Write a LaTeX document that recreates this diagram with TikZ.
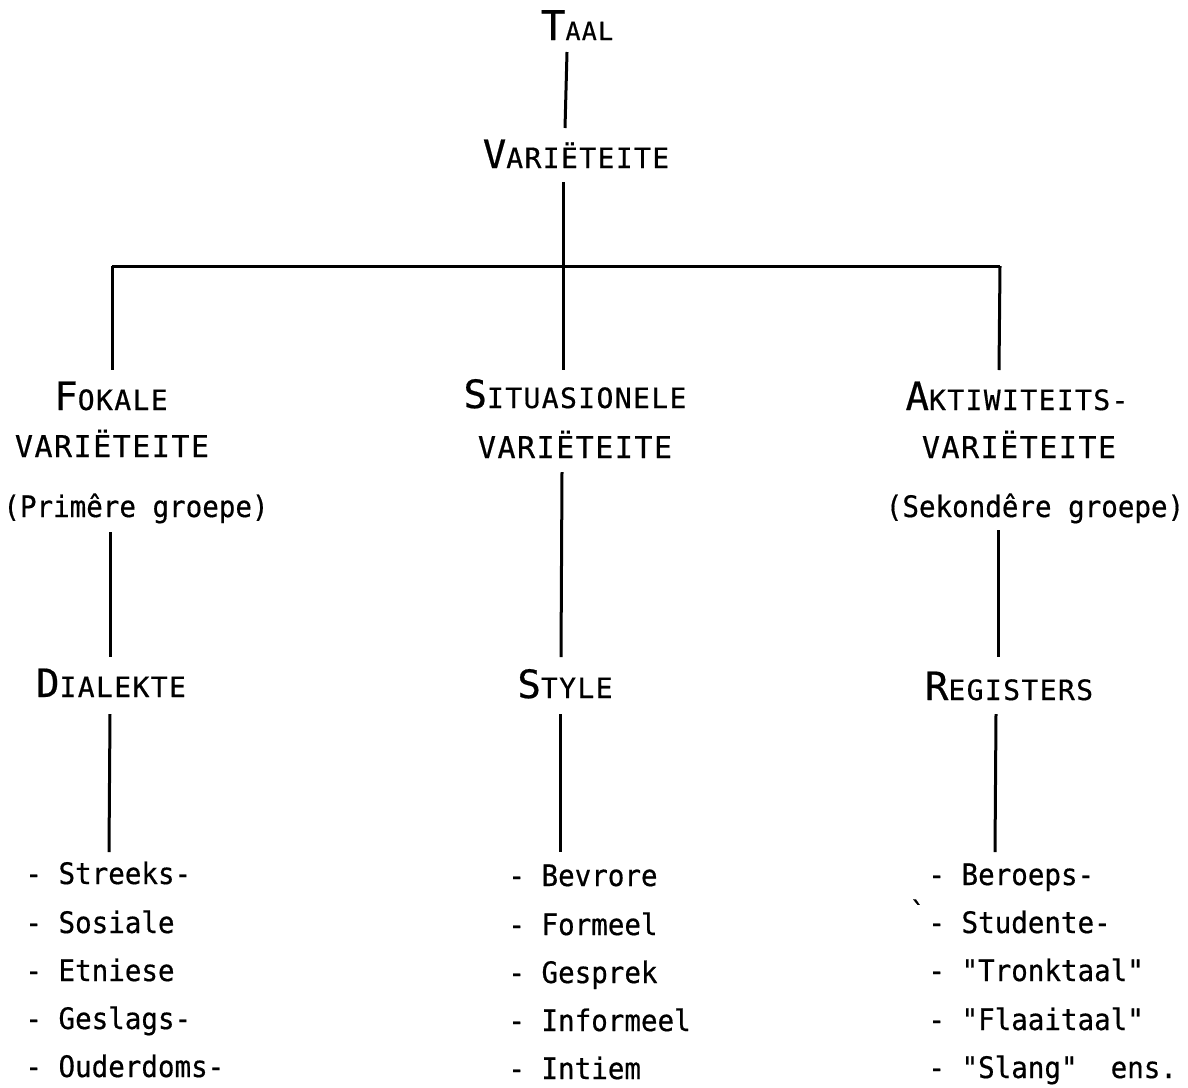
\documentclass[tikz,border=0pt]{standalone}
\usepackage{fontspec}
\newfontfamily\tw[Ligatures=TeXOff,FakeStretch=0.93,FakeBold=0.5]{DejaVu Sans Mono}
\newfontfamily\hd[Ligatures=TeXOff,LetterSpace=5,FakeBold=0.5]{DejaVu Sans Mono}
\newcommand\sz[1]{\fontsize{#1}{#1}\selectfont}
\newcommand\SCap[2]{{\sz{19.5pt}#1}{\sz{14pt}#2}}
\begin{document}
\begin{tikzpicture}[x=0.5pt,y=-0.5pt,
  conn/.style={line width=1.5pt},
  head/.style={anchor=base, inner sep=0pt, font=\hd},
  sub/.style={anchor=base, inner sep=0pt, font=\hd\sz{15pt}},
  paren/.style={anchor=base, inner sep=0pt, font=\tw\sz{14.8pt}},
  item/.style={anchor=base west, inner sep=0pt, font=\tw\sz{14.8pt}}]
\useasboundingbox[fill=white] (0,0) rectangle (1188,1087);

% headings
\node[head] (taal) at (577,40) {{\sz{20.5pt}T}{\sz{12.5pt}AAL}};
\node[head] (var) at (576,168) {\SCap{V}{ARIËTEITE}};
\node[head] (fok) at (111,410) {\SCap{F}{OKALE}};
\node[sub] (fokv) at (112,457) {VARIËTEITE};
\node[paren] (prim) at (136,517) {(Primêre groepe)};
\node[head] (sit) at (575,408) {\SCap{S}{ITUASIONELE}};
\node[sub] (sitv) at (575,458) {VARIËTEITE};
\node[head] (akt) at (1017,410) {\SCap{A}{KTIWITEITS-}};
\node[sub] (aktv) at (1019,458) {VARIËTEITE};
\node[paren] (sek) at (1035,517) {(Sekondêre groepe)};
\node[head] (dia) at (111,697) {\SCap{D}{IALEKTE}};
\node[head] (sty) at (565,698) {\SCap{S}{TYLE}};
\node[head] (reg) at (1009,700) {\SCap{R}{EGISTERS}};

% lists
\node[item] (l1) at (25,884) {- Streeks-};
\node[item] (l2) at (25,933) {- Sosiale};
\node[item] (l3) at (25,981) {- Etniese};
\node[item] (l4) at (25,1029) {- Geslags-};
\node[item] (l5) at (25,1077) {- Ouderdoms-};
\node[item] (m1) at (508,886) {- Bevrore};
\node[item] (m2) at (508,935) {- Formeel};
\node[item] (m3) at (508,983) {- Gesprek};
\node[item] (m4) at (508,1031) {- Informeel};
\node[item] (m5) at (508,1079) {- Intiem};
\node[item] (r1) at (928,885) {- Beroeps-};
\node[item] (r2) at (928,933) {- Studente-};
\node[item] (r3) at (928,981) {- "Tronktaal"};
\node[item] (r4) at (928,1030) {- "Flaaitaal"};
\node[item] (r5) at (928,1078) {- "Slang"\ \ ens.};
\node[item] (tick) at (909,923) {`};

% connector end points
\coordinate (a1) at (567,52);  \coordinate (a2) at (565,128);
\coordinate (b1) at (563,182); \coordinate (b2) at (563,370);
\coordinate (bl) at (112,266); \coordinate (br) at (1000,266);
\coordinate (cl) at (112,370); \coordinate (cr) at (999,370);
\coordinate (d1) at (110,532); \coordinate (d2) at (110,657);
\coordinate (d3) at (110,714); \coordinate (d4) at (109,852);
\coordinate (e1) at (562,472); \coordinate (e2) at (561,657);
\coordinate (e3) at (560,714); \coordinate (e4) at (560,852);
\coordinate (f1) at (998,530); \coordinate (f2) at (998,657);
\coordinate (f3) at (996,714); \coordinate (f4) at (995,852);

\draw[conn] (a1) -- (a2);
\draw[conn] (b1) -- (b2);
\draw[conn] (bl) -- (br);
\draw[conn] (bl) -- (cl);
\draw[conn] (br) -- (cr);
\draw[conn] (d1) -- (d2);
\draw[conn] (d3) -- (d4);
\draw[conn] (e1) -- (e2);
\draw[conn] (e3) -- (e4);
\draw[conn] (f1) -- (f2);
\draw[conn] (f3) -- (f4);
\end{tikzpicture}
\end{document}
